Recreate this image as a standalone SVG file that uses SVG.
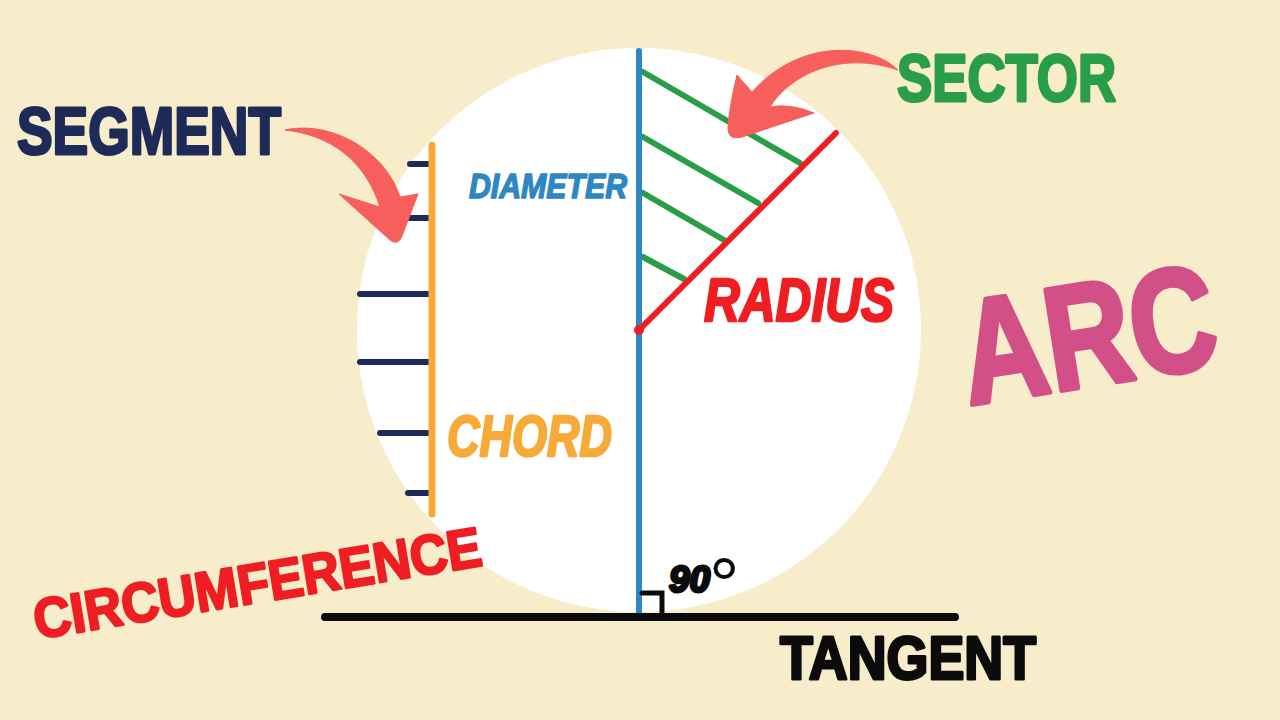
<svg xmlns="http://www.w3.org/2000/svg" width="1280" height="720" viewBox="0 0 1280 720">
  <defs>
    <style>
      .lbl { font-family: "Liberation Sans", "DejaVu Sans", Arial, sans-serif; font-weight: bold; stroke-linejoin: round; }
      .it { font-style: italic; }
      .navy { fill: #1E2B58; stroke: #1E2B58; stroke-width: 3; }
      .green { fill: #2A9D48; stroke: #2A9D48; stroke-width: 3; }
      .blue { fill: #2D87C3; stroke: #2D87C3; stroke-width: 1.5; }
      .orange { fill: #F6AA38; stroke: #F6AA38; stroke-width: 2.5; }
      .red { fill: #EE1E23; stroke: #EE1E23; stroke-width: 2.5; }
      .pink { fill: #D24F88; stroke: #D24F88; stroke-width: 5; }
      .black { fill: #0B0B0B; stroke: #0B0B0B; stroke-width: 3; }
      .hatchN { stroke: #1E2B58; stroke-width: 6; stroke-linecap: round; fill: none; }
      .hatchG { stroke: #2A9D48; stroke-width: 6; stroke-linecap: round; fill: none; }
      .arrow { fill: #F65F5B; stroke: #F65F5B; stroke-width: 1; stroke-linejoin: round; }
    </style>
  </defs>

  <rect width="1280" height="720" fill="#F8EDCB"/>

  <g id="circle">
    <circle cx="639" cy="330" r="282" fill="#FFFFFF"/>
  </g>

  <g id="segment">
    <line class="hatchN" x1="410" y1="164" x2="432" y2="164"/>
    <line class="hatchN" x1="410" y1="218" x2="432" y2="218"/>
    <line class="hatchN" x1="360" y1="294" x2="432" y2="294"/>
    <line class="hatchN" x1="360" y1="362" x2="432" y2="362"/>
    <line class="hatchN" x1="380" y1="433" x2="432" y2="433"/>
    <line class="hatchN" x1="408" y1="493" x2="432" y2="493"/>
    <text class="lbl navy" x="17" y="154" font-size="67" textLength="264" lengthAdjust="spacingAndGlyphs">SEGMENT</text>
  </g>

  <g id="chord">
    <line x1="432" y1="145" x2="432" y2="514" stroke="#F6AA38" stroke-width="7" stroke-linecap="round"/>
    <text class="lbl it orange" x="447" y="456" font-size="57" textLength="165" lengthAdjust="spacingAndGlyphs">CHORD</text>
  </g>

  <g id="sector">
    <line class="hatchG" x1="643" y1="72" x2="800" y2="163"/>
    <line class="hatchG" x1="643" y1="137" x2="758" y2="203"/>
    <line class="hatchG" x1="643" y1="193" x2="724" y2="240"/>
    <line class="hatchG" x1="643" y1="257" x2="684" y2="279"/>
    <text class="lbl green" x="897" y="101" font-size="67" textLength="219" lengthAdjust="spacingAndGlyphs">SECTOR</text>
  </g>

  <g id="diameter">
    <line x1="639" y1="51" x2="639" y2="612" stroke="#2D87C3" stroke-width="6" stroke-linecap="round"/>
    <text class="lbl it blue" x="469" y="198" font-size="35" textLength="158" lengthAdjust="spacingAndGlyphs">DIAMETER</text>
  </g>

  <g id="radius">
    <line x1="639" y1="330" x2="836" y2="133" stroke="#EE1E23" stroke-width="6" stroke-linecap="round"/>
    <circle cx="639" cy="330" r="5" fill="#EE1E23"/>
    <text class="lbl it red" x="704" y="321" font-size="61" textLength="190" lengthAdjust="spacingAndGlyphs">RADIUS</text>
  </g>

  <g id="tangent">
    <line x1="325" y1="617" x2="955" y2="617" stroke="#0B0B0B" stroke-width="8" stroke-linecap="round"/>
    <polyline points="642,593 662,593 662,617" fill="none" stroke="#0B0B0B" stroke-width="5" stroke-linecap="round"/>
    <text class="lbl it black" x="669" y="592" font-size="37" stroke-width="2" textLength="41" lengthAdjust="spacingAndGlyphs">90</text>
    <text x="709" y="611" font-family="Liberation Sans, Arial, sans-serif" font-size="76" fill="#0B0B0B">°</text>
    <text class="lbl black" x="780" y="679" font-size="61" textLength="256" lengthAdjust="spacingAndGlyphs">TANGENT</text>
  </g>

  <g id="circumference">
    <text class="lbl red" transform="translate(37,639) rotate(-9.4)" x="0" y="0" font-size="56" textLength="453" lengthAdjust="spacingAndGlyphs">CIRCUMFERENCE</text>
  </g>

  <g id="arc">
    <text class="lbl pink" transform="translate(969,405) rotate(-9) scale(0.8,1)" x="0" y="0" font-size="148">ARC</text>
  </g>

  <g id="connectors">
    <path class="arrow" d="M 898 70 C 870 43, 800 38, 752 92 L 737 75 Q 729 108 728 128 Q 728 141 742 137 L 814 113 Q 790 103 770 107 C 790 75, 840 50, 898 70 Z"/>
    <path class="arrow" d="M 285 130 C 330 120, 385 150, 400 197 L 418 194 L 402 236 Q 398 246 390 240 L 339 194 L 380 207 C 365 160, 330 135, 285 130 Z"/>
  </g>
</svg>
